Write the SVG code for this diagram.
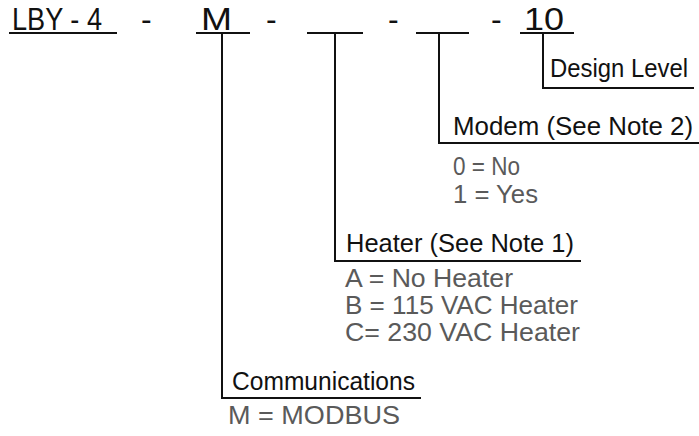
<svg xmlns="http://www.w3.org/2000/svg" width="699" height="436" viewBox="0 0 699 436">
<style>
text{font-family:"Liberation Sans",Arial,sans-serif}
.hd{font-size:32px;fill:#111}
.lb{font-size:26px;fill:#111}
.op{font-size:25px;fill:#5a5a5a}
.ln{stroke:#111;stroke-width:2;fill:none;stroke-linecap:square}
</style>
<rect width="699" height="436" fill="#fff"/>
<g id="part-number">
<text class="hd" x="12" y="30" textLength="90" lengthAdjust="spacingAndGlyphs">LBY - 4</text>
<text class="hd" x="141" y="30">-</text>
<text class="hd" x="201" y="30" textLength="31" lengthAdjust="spacingAndGlyphs">M</text>
<text class="hd" x="266" y="30">-</text>
<text class="hd" x="388" y="30">-</text>
<text class="hd" x="491" y="30">-</text>
<text class="hd" x="524" y="30" textLength="40" lengthAdjust="spacingAndGlyphs">10</text>
<path class="ln" d="M10 33H116M197 33H249M308 33H362M417 33H468M521 33H573"/>
</g>
<g id="connectors">
<path class="ln" d="M222 33V398H420"/>
<path class="ln" d="M335 33V261H580"/>
<path class="ln" d="M439 33V143H698"/>
<path class="ln" d="M543 33V88H693"/>
</g>
<g id="design-level">
<text class="lb" x="550" y="77" textLength="138" lengthAdjust="spacingAndGlyphs">Design Level</text>
</g>
<g id="modem">
<text class="lb" x="453" y="135" textLength="240" lengthAdjust="spacingAndGlyphs">Modem (See Note 2)</text>
<text class="op" x="453" y="175" textLength="67" lengthAdjust="spacingAndGlyphs">0 = No</text>
<text class="op" x="453" y="203" textLength="85" lengthAdjust="spacingAndGlyphs">1 = Yes</text>
</g>
<g id="heater">
<text class="lb" x="346" y="252" textLength="228" lengthAdjust="spacingAndGlyphs">Heater (See Note 1)</text>
<text class="op" x="345" y="287" textLength="168" lengthAdjust="spacingAndGlyphs">A = No Heater</text>
<text class="op" x="345" y="314" textLength="233" lengthAdjust="spacingAndGlyphs">B = 115 VAC Heater</text>
<text class="op" x="345" y="341" textLength="235" lengthAdjust="spacingAndGlyphs">C= 230 VAC Heater</text>
</g>
<g id="communications">
<text class="lb" x="232" y="390" textLength="183" lengthAdjust="spacingAndGlyphs">Communications</text>
<text class="op" x="228" y="424" textLength="172" lengthAdjust="spacingAndGlyphs">M = MODBUS</text>
</g>
</svg>
